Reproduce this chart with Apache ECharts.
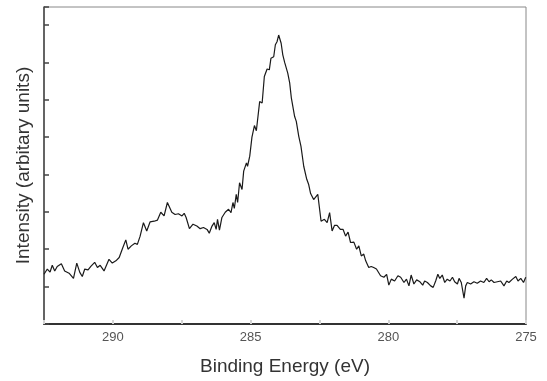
<!DOCTYPE html>
<html style="height: 100%">
  <head>
    <meta charset="utf-8" />
  </head>
  <body style="height: 100%; margin: 0; background: #fff">
    <div id="container" style="width: 547px; height: 381px"></div>
    <script src="https://cdn.jsdelivr.net/npm/echarts@6/dist/echarts.min.js"></script>
    <script type="text/javascript">
      // binding energy (eV) from left to right
      var energy = [
        292.50, 292.38, 292.28, 292.20, 292.11, 292.02, 291.87, 291.75, 291.59, 291.43,
        291.31, 291.20, 291.11, 291.02, 290.90, 290.80, 290.66, 290.56, 290.46, 290.32,
        290.25, 290.14, 290.02, 289.89, 289.77, 289.65, 289.53, 289.45, 289.33, 289.20,
        289.11, 289.01, 288.89, 288.77, 288.65, 288.50, 288.38, 288.26, 288.14, 288.02,
        287.86, 287.74, 287.62, 287.49, 287.41, 287.34, 287.22, 287.09, 286.95, 286.83,
        286.71, 286.58, 286.50, 286.40, 286.32, 286.25, 286.20, 286.13, 286.04, 285.92,
        285.80, 285.71, 285.64, 285.59, 285.52, 285.47, 285.40, 285.31, 285.25, 285.15,
        285.11, 285.03, 284.95, 284.86, 284.79, 284.67, 284.58, 284.50, 284.40, 284.32,
        284.26, 284.16, 284.10, 284.04, 283.98, 283.94, 283.89, 283.83, 283.76, 283.70,
        283.65, 283.58, 283.52, 283.46, 283.40, 283.34, 283.25, 283.17, 283.07, 282.96,
        282.89, 282.82, 282.71, 282.56, 282.44, 282.32, 282.22, 282.13, 282.04, 281.95,
        281.86, 281.74, 281.64, 281.55, 281.46, 281.37, 281.25, 281.15, 281.07, 280.98,
        280.89, 280.82, 280.71, 280.62, 280.53, 280.43, 280.28, 280.16, 280.06, 279.98,
        279.89, 279.77, 279.65, 279.55, 279.43, 279.34, 279.25, 279.17, 279.07, 278.97,
        278.85, 278.75, 278.68, 278.58, 278.46, 278.37, 278.28, 278.20, 278.13, 278.04,
        277.95, 277.86, 277.76, 277.67, 277.59, 277.49, 277.43, 277.35, 277.25, 277.19,
        277.13, 277.01, 276.89, 276.77, 276.65, 276.53, 276.43, 276.34, 276.26, 276.16,
        276.04, 275.92, 275.80, 275.70, 275.62, 275.49, 275.37, 275.29, 275.19, 275.09,
        275.01
      ];
      // intensity, arbitrary units (one unit per y tick)
      var intensity = [
        1.33, 1.47, 1.39, 1.57, 1.42, 1.54, 1.61, 1.42, 1.36, 1.22,
        1.63, 1.38, 1.27, 1.47, 1.45, 1.54, 1.65, 1.51, 1.57, 1.42,
        1.47, 1.73, 1.63, 1.69, 1.78, 2.02, 2.25, 2.00, 2.09, 2.16,
        2.13, 2.35, 2.71, 2.49, 2.73, 2.75, 2.78, 2.99, 2.89, 3.25,
        2.99, 2.93, 2.95, 2.89, 2.96, 2.85, 2.55, 2.67, 2.62, 2.55,
        2.58, 2.53, 2.43, 2.62, 2.71, 2.53, 2.80, 2.51, 2.85, 2.99,
        3.07, 2.98, 3.25, 3.09, 3.47, 3.25, 3.78, 3.60, 4.09, 4.31,
        4.22, 4.49, 5.00, 5.31, 5.17, 5.95, 5.91, 6.62, 6.82, 6.80,
        7.11, 7.15, 7.47, 7.55, 7.73, 7.68, 7.51, 7.20, 6.99, 6.96,
        6.71, 6.45, 6.05, 6.09, 5.55, 5.42, 5.02, 4.75, 4.22, 3.87,
        3.73, 3.49, 3.33, 3.47, 2.75, 2.80, 2.71, 2.98, 2.49, 2.64,
        2.64, 2.53, 2.53, 2.35, 2.46, 2.18, 2.19, 2.00, 2.09, 1.82,
        1.87, 1.69, 1.51, 1.54, 1.51, 1.47, 1.29, 1.25, 1.33, 1.04,
        1.20, 1.15, 1.29, 1.25, 1.11, 1.20, 1.02, 1.31, 1.07, 1.18,
        1.13, 1.04, 1.15, 1.11, 1.02, 0.98, 1.15, 1.33, 1.22, 1.31,
        1.11, 1.20, 1.15, 1.25, 1.13, 1.07, 1.22, 1.11, 0.69, 1.02,
        1.11, 1.07, 1.13, 1.09, 1.15, 1.11, 1.22, 1.13, 1.18, 1.11,
        1.13, 1.15, 1.02, 1.15, 1.11, 1.20, 1.27, 1.15, 1.22, 1.11,
        1.25
      ];
      var xTickLabels = [290, 285, 280, 275];

      var points = [];
      for (var i = 0; i < energy.length; i++) {
        points.push([energy[i], intensity[i]]);
      }

      var myChart = echarts.init(document.getElementById('container'));
      var font = "'Liberation Sans', Arial, sans-serif";

      var option = {
        animation: false,
        backgroundColor: '#fff',
        grid: {
          left: 44,
          right: 21,
          top: 7,
          bottom: 56,
          show: true,
          borderColor: '#888',
          borderWidth: 1
        },
        xAxis: {
          type: 'value',
          inverse: true,
          min: 275,
          max: 292.5,
          interval: 2.5,
          name: 'Binding Energy (eV)',
          nameLocation: 'middle',
          nameGap: 33,
          nameTextStyle: { fontFamily: font, fontSize: 19, color: '#333' },
          axisLine: { lineStyle: { color: '#333', width: 2 } },
          axisTick: { show: true, inside: true, length: 4, lineStyle: { color: '#d4d4d4', width: 2 } },
          axisLabel: {
            margin: 7,
            fontFamily: font,
            fontSize: 13,
            color: '#555',
            formatter: function (v) {
              return xTickLabels.indexOf(v) >= 0 ? String(v) : '';
            }
          },
          splitLine: { show: false }
        },
        yAxis: {
          type: 'value',
          min: 0,
          max: 8.48,
          interval: 1,
          name: 'Intensity (arbitary units)',
          nameLocation: 'middle',
          nameGap: 11,
          nameTextStyle: { fontFamily: font, fontSize: 19, color: '#333' },
          axisLine: { show: true, lineStyle: { color: '#444', width: 1.5 } },
          axisTick: { show: true, inside: true, length: 5, lineStyle: { color: '#444', width: 1.5 } },
          axisLabel: { show: false },
          splitLine: { show: false }
        },
        series: [
          {
            type: 'line',
            data: points,
            showSymbol: false,
            lineStyle: { color: '#1a1a1a', width: 1.2 }
          }
        ]
      };

      myChart.setOption(option);
    </script>
  </body>
</html>
